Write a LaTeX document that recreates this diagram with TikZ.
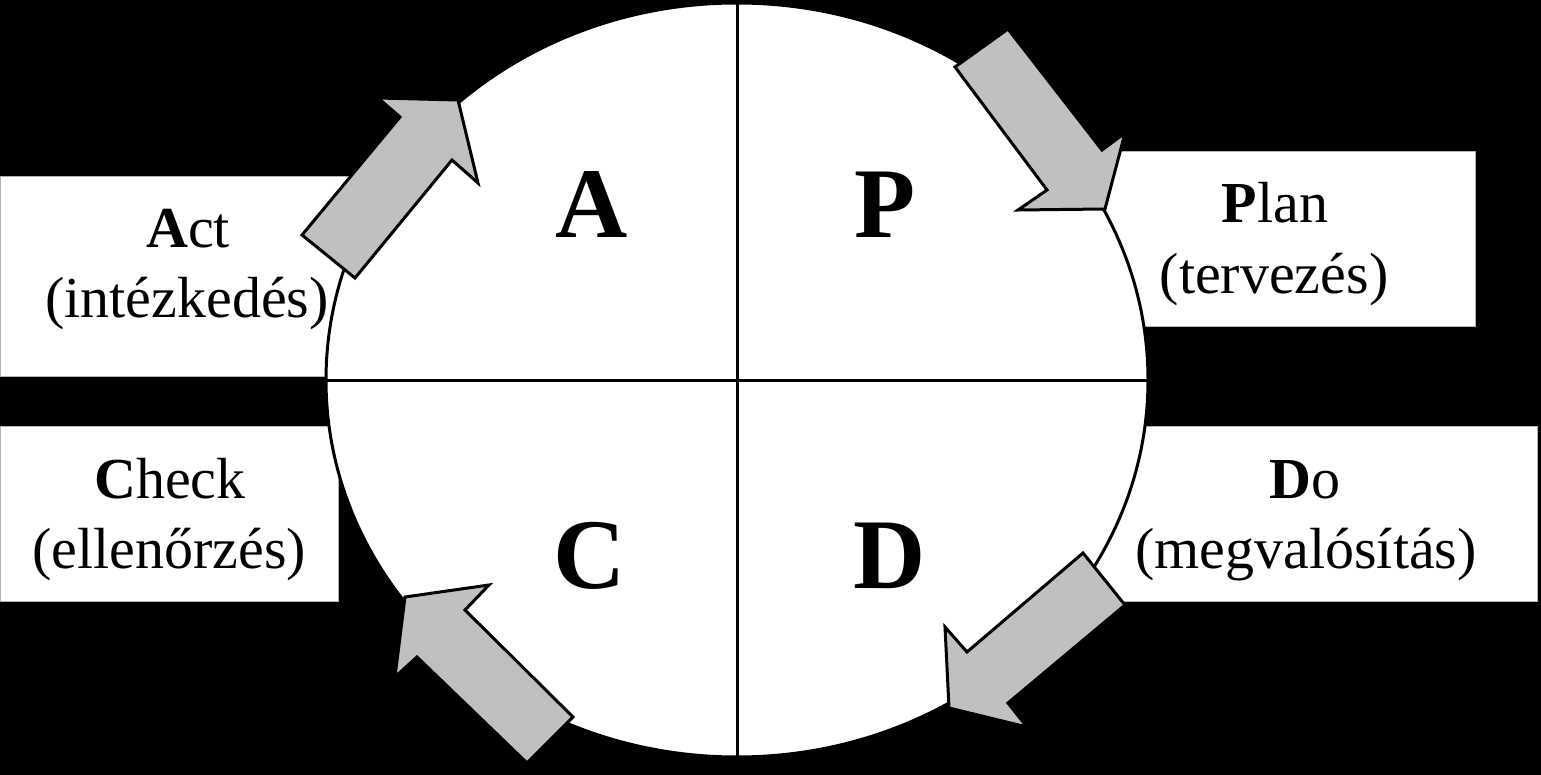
\documentclass[tikz,border=0pt]{standalone}
\usepackage{fontspec}
\setmainfont{Liberation Serif}
\usetikzlibrary{shapes.geometric}
\definecolor{arrowgray}{HTML}{C0C0C0}
\begin{document}
\begin{tikzpicture}[x=0.5pt,y=-0.5pt,
  labelbox/.style={fill=white,draw=gray!60,line width=0.4pt},
  blockarrow/.style={fill=arrowgray,draw=black,line width=1.5pt,line join=miter},
  bigletter/.style={anchor=base,inner sep=0pt,font=\fontsize{50}{60}\selectfont\bfseries},
  smalltext/.style={anchor=base,inner sep=0pt,font=\fontsize{29}{35}\selectfont}]
\fill[black] (0,0) rectangle (1541,775);
\useasboundingbox (0,0) rectangle (1541,775);
% label boxes (behind the circle)
\draw[labelbox] (0,176) rectangle (420,376);
\draw[labelbox] (0,426) rectangle (338,601);
\draw[labelbox] (1050,151) rectangle (1475,326);
\draw[labelbox] (1050,426) rectangle (1537,601);
% circle
\node[ellipse,draw=black,fill=white,line width=1.5pt,inner sep=0pt,outer sep=0pt,
      minimum width=411pt,minimum height=377pt] (circ) at (737,380) {};
\draw[line width=1.5pt] (circ.north) -- (circ.south);
\draw[line width=1.5pt] (circ.west) -- (circ.east);
% big letters
\node[bigletter] (tA) at (592,238) {A};
\node[bigletter] (tP) at (885,238) {P};
\node[bigletter] (tC) at (590,588) {C};
\node[bigletter] (tD) at (890,588) {D};
% labels
\node[smalltext] (actT) at (188,248) {\textbf{A}ct};
\node[smalltext] (actS) at (187,317) {(intézkedés)};
\node[smalltext] (chkT) at (170,498) {\textbf{C}heck};
\node[smalltext] (chkS) at (169,568) {(ellenőrzés)};
\node[smalltext] (plnT) at (1275,223) {\textbf{P}lan};
\node[smalltext] (plnS) at (1274,293) {(tervezés)};
\node[smalltext] (doT) at (1305,498) {\textbf{D}o};
\node[smalltext] (doS) at (1306,568) {(megvalósítás)};
% block arrows
\draw[blockarrow] (302,235) -- (400,117) -- (378,98) -- (458,100) -- (478,183) -- (452,160) -- (355,278) -- cycle;
\draw[blockarrow] (955,67) -- (1008,29) -- (1102,150) -- (1125,133) -- (1105,209) -- (1018,210) -- (1047,190) -- cycle;
\draw[blockarrow] (1083,553) -- (1125,605) -- (1008,703) -- (1027,727) -- (949,708) -- (945,627) -- (967,652) -- cycle;
\draw[blockarrow] (573,717) -- (527,763) -- (417,657) -- (395,677) -- (405,597) -- (489,585) -- (465,610) -- cycle;
\end{tikzpicture}
\end{document}
